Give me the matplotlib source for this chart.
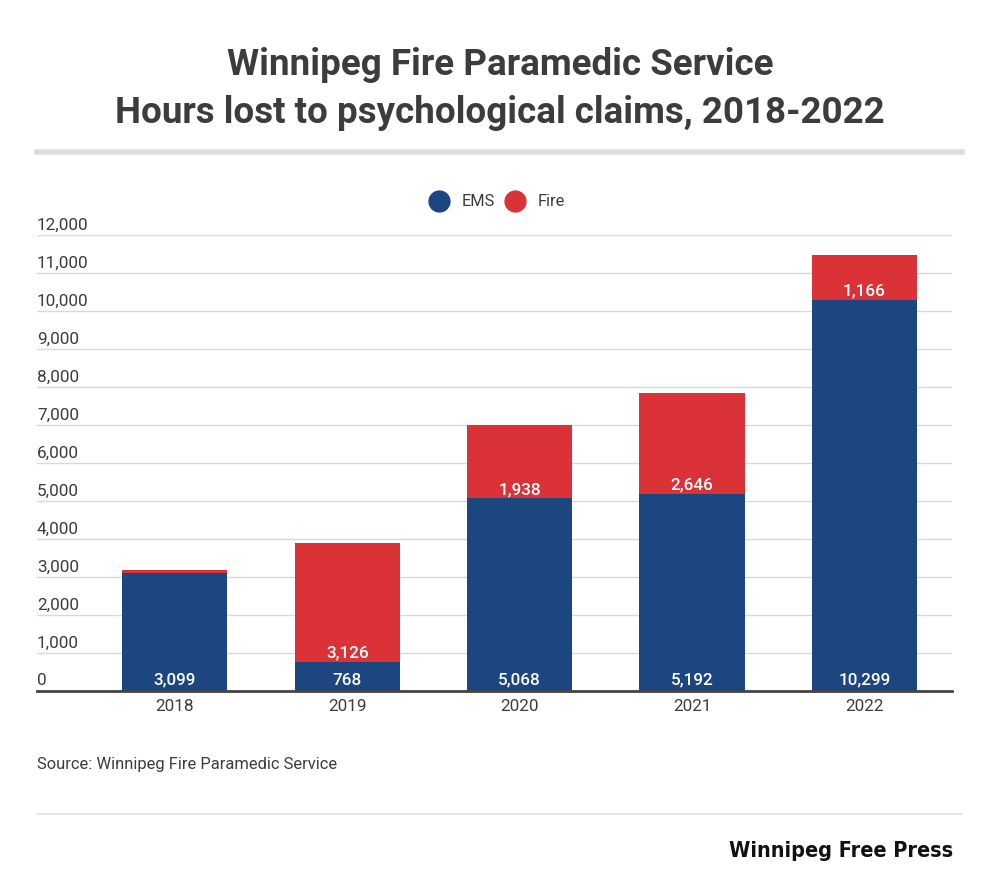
import matplotlib.pyplot as plt
from matplotlib.lines import Line2D

plt.rcParams['font.family'] = ['Roboto', 'DejaVu Sans']

years = ['2018', '2019', '2020', '2021', '2022']
ems = [3099, 768, 5068, 5192, 10299]
fire = [80, 3126, 1938, 2646, 1166]
yticks = [0, 1000, 2000, 3000, 4000, 5000, 6000, 7000, 8000, 9000, 10000, 11000, 12000]

c_ems = '#1c4680'
c_fire = '#da3237'
c_text = '#3c3c3c'

W, H = 1000, 893
fig = plt.figure(figsize=(10, 8.93), dpi=100)
fig.patch.set_facecolor('white')

# axes placed by pixel
left, right, bottom, top = 37, 952, 691, 235
ax = fig.add_axes([left / W, 1 - bottom / H, (right - left) / W, (bottom - top) / H])

x = range(len(years))
ax.bar(x, ems, width=0.61, color=c_ems, zorder=3)
ax.bar(x, fire, width=0.61, bottom=ems, color=c_fire, zorder=3)

for i in x:
    ax.annotate(f'{ems[i]:,}', (i, 0), xytext=(0, 4.5), textcoords='offset points',
                ha='center', va='baseline', color='white', fontsize=12.3, fontweight='medium', zorder=4)
    if fire[i] > 500:
        ax.annotate(f'{fire[i]:,}', (i, ems[i]), xytext=(0, 3), textcoords='offset points',
                    ha='center', va='baseline', color='white', fontsize=12.3, fontweight='medium', zorder=4)

ax.set_xlim(-0.80, 4.508)
ax.set_ylim(0, 12000)
ax.set_xticks(list(x))
ax.set_xticklabels(years, fontsize=12.3, color=c_text)
ax.tick_params(axis='x', length=0, pad=6)
ax.set_yticks(yticks)
ax.set_yticklabels([])
ax.tick_params(axis='y', length=0)
ax.grid(axis='y', color='#d9d9d9', linewidth=1, zorder=0)
for s in ['top', 'right', 'left']:
    ax.spines[s].set_visible(False)
ax.spines['bottom'].set_color('#444444')
ax.spines['bottom'].set_linewidth(2)
ax.spines['bottom'].set_zorder(5)

# y labels sit above the gridlines
for v in yticks:
    ax.annotate(f'{v:,}', (0, v), xycoords=('axes fraction', 'data'), xytext=(0, 4),
                textcoords='offset points', ha='left', va='baseline', fontsize=12.3, color=c_text)

fig.text(0.5, 1 - 65 / H, 'Winnipeg Fire Paramedic Service', ha='center', va='center',
         fontsize=26.5, fontweight='bold', color=c_text)
fig.text(0.5, 1 - 113 / H, 'Hours lost to psychological claims, 2018-2022', ha='center', va='center',
         fontsize=26.5, fontweight='bold', color=c_text)

fig.add_artist(Line2D([37 / W, 962 / W], [1 - 152 / H] * 2, color='#dddddd', linewidth=4))
fig.add_artist(Line2D([37 / W, 962 / W], [1 - 814 / H] * 2, color='#e3e3e3', linewidth=1.2))

handles = [Line2D([], [], marker='o', linestyle='', markersize=15, color=c_ems, label='EMS'),
           Line2D([], [], marker='o', linestyle='', markersize=15, color=c_fire, label='Fire')]
leg = fig.legend(handles=handles, loc='center', bbox_to_anchor=(0.497, 1 - 202 / H), ncol=2,
                 frameon=False, fontsize=11.8, handletextpad=0.8, columnspacing=0.6, handlelength=1.2)
for t in leg.get_texts():
    t.set_color(c_text)

fig.text(37 / W, 1 - 765 / H, 'Source: Winnipeg Fire Paramedic Service', ha='left', va='center',
         fontsize=11.9, color=c_text)
fig.text(953 / W, 1 - 851 / H, 'Winnipeg Free Press', ha='right', va='center', fontsize=15.5,
         fontweight='heavy', fontstretch='condensed', color='#111111',
         family=['DejaVu Sans', 'Roboto'])

fig.savefig('out.png', dpi=100, facecolor='white')
